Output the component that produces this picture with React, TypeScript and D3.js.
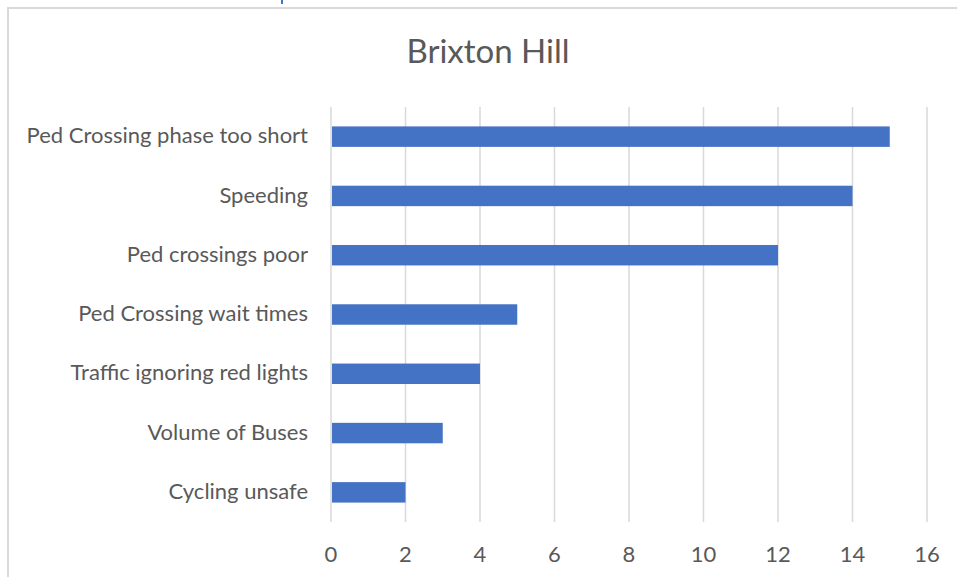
import React from "react";
import * as d3 from "d3";

const categories = [
  "Ped Crossing phase too short",
  "Speeding",
  "Ped crossings poor",
  "Ped Crossing wait times",
  "Traffic ignoring red lights",
  "Volume of Buses",
  "Cycling unsafe",
];
const values = [15, 14, 12, 5, 4, 3, 2];
const xTicks = [0, 2, 4, 6, 8, 10, 12, 14, 16];
const title = "Brixton Hill";

const W = 957;
const H = 577;
const plot = { left: 331, right: 927, top: 107, bottom: 522 };
const FONT = "Lato, 'Open Sans', sans-serif";

export default function App() {
  const x = d3.scaleLinear().domain([0, 16]).range([plot.left, plot.right]);
  const y = d3
    .scaleBand<string>()
    .domain(categories)
    .range([plot.top, plot.bottom])
    .paddingInner(0.655)
    .paddingOuter(0.3275);

  return (
    <div style={{ position: "absolute", left: 0, top: 0 }}>
      <svg width={W} height={H} style={{ display: "block", background: "#fff" }}>
        <rect x={0} y={0} width={W} height={H} fill="#fff" />
        {/* chart area border */}
        <rect x={8} y={8} width={W + 20} height={H + 20} fill="#fff" stroke="#d9d9d9" strokeWidth={2} />
        {/* fragment of text above */}
        <rect x={281} y={0} width={2} height={4} fill="#4472c4" />
        <text
          x={488}
          y={63}
          textAnchor="middle"
          fontFamily={FONT}
          fontSize={33}
          fill="#595959"
        >
          {title}
        </text>
        {xTicks.map((t) => (
          <g key={t}>
            <line
              x1={x(t)}
              x2={x(t)}
              y1={plot.top}
              y2={plot.bottom}
              stroke="#d9d9d9"
              strokeWidth={1.5}
            />
            <text
              x={x(t)}
              y={562}
              textAnchor="middle"
              fontFamily={FONT}
              fontSize={22}
              fill="#595959"
            >
              {t}
            </text>
          </g>
        ))}
        {categories.map((c, i) => (
          <g key={c}>
            <rect
              x={x(0) + 1}
              y={y(c)!}
              width={x(values[i]) - x(0) - 1}
              height={y.bandwidth()}
              fill="#4472c4"
            />
            <text
              x={308}
              y={y(c)! + y.bandwidth() / 2}
              dy="0.3em"
              textAnchor="end"
              fontFamily={FONT}
              fontSize={22}
              fill="#595959"
            >
              {c}
            </text>
          </g>
        ))}
      </svg>
    </div>
  );
}
